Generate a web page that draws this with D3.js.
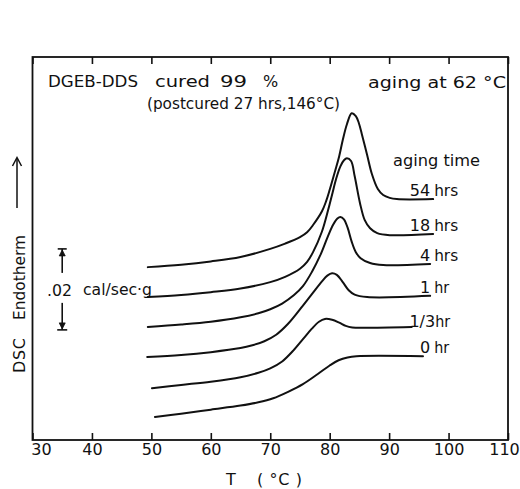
<!DOCTYPE html>
<html>
<head>
<meta charset="utf-8">
<script src="https://cdn.jsdelivr.net/npm/d3@7"></script>
<style>
  body { margin: 0; background: #fff; }
  text { font-family: "DejaVu Sans", sans-serif; fill: #111; }
</style>
</head>
<body>
<svg id="chart" width="520" height="489"></svg>
<script>
// DSC traces of DGEB-DDS aged at 62 °C; heat flow in mcal/(sec·g), offset per trace
const agingLabels = ["0", "1/3", "1", "4", "18", "54"];
const agingUnits  = ["hr", "hr", "hr", "hrs", "hrs", "hrs"];

const curve0hr = [[50.6, 5.7], [55, 6.5], [60, 7.5], [65, 8.5], [68, 9.3], [70.5, 10.3], [73, 11.9],
  [75.5, 13.8], [78, 16.3], [80, 18.4], [81.5, 19.7], [83, 20.4], [84.5, 20.7], [95.7, 20.7]];
const curve20min = [[50.1, 12.8], [55, 13.6], [60, 14.4], [65, 15.5], [68, 16.6], [70, 17.7], [72, 19.4],
  [74, 22.3], [75.5, 24.9], [77, 27.5], [78.2, 29.2], [79.2, 29.9], [80.4, 29.7], [81.6, 29.0],
  [82.7, 28.2], [83.8, 27.8], [85.6, 27.7], [93.8, 27.9]];
const curve1hr = [[49.3, 20.5], [55, 21.0], [60, 21.7], [65, 22.7], [67, 23.4], [69, 24.4], [71, 26.0],
  [73, 28.7], [75.5, 33.2], [77.2, 36.4], [78.7, 39.2], [79.6, 40.6], [80.4, 41.2], [81.2, 40.8],
  [82.2, 39.0], [83.2, 37.0], [84.2, 35.9], [86.3, 35.3], [96.9, 35.6]];
const curve4hr = [[49.4, 27.9], [55, 28.5], [60, 29.2], [65, 30.3], [68, 31.3], [70, 32.3], [72, 33.7],
  [74, 35.8], [75.5, 38.0], [77, 41.5], [78.5, 45.9], [79.7, 50.3], [80.6, 53.2], [81.3, 54.7],
  [81.8, 55.1], [82.4, 54.5], [83.0, 52.5], [83.7, 49.0], [84.4, 46.4], [85.2, 44.9], [86.8, 43.7],
  [89.0, 43.2], [96.9, 43.5]];
const curve18hr = [[49.4, 35.3], [55, 35.8], [60, 36.5], [65, 37.4], [70, 39.0], [72.5, 40.3], [75, 42.3],
  [76.2, 44.0], [77.2, 46.4], [78.7, 51.5], [79.7, 56.6], [80.4, 60.6], [81.1, 64.6], [81.8, 67.6],
  [82.4, 69.1], [82.9, 69.6], [83.6, 68.9], [84.2, 65.2], [85.1, 58.5], [85.9, 54.3], [86.8, 52.3],
  [88.0, 51.1], [90.1, 50.6], [97.4, 50.9]];
const curve54hr = [[49.4, 42.7], [55, 43.3], [60, 44.1], [65, 45.2], [70, 47.2], [72.5, 48.5], [75, 50.1],
  [76.2, 51.3], [77.2, 53.1], [78.7, 56.5], [79.4, 59.0], [80.0, 61.8], [80.9, 66.4], [81.6, 70.1],
  [82.2, 74.1], [82.9, 78.0], [83.7, 80.7], [84.4, 80.0], [84.9, 78.3], [85.4, 75.6], [86.3, 70.4],
  [87.1, 65.7], [88.1, 62.0], [89.0, 60.5], [90.1, 59.8], [91.3, 59.5], [97.4, 59.5]];

const curves = [curve0hr, curve20min, curve1hr, curve4hr, curve18hr, curve54hr];

const tempTicks = [30, 40, 50, 60, 70, 80, 90, 100, 110];
const scaleBarCal = 0.02;          // cal/sec·g
const scaleBarBase = 27.2;         // mcal/sec·g, lower end of the scale bar
const scaleBarTemp = 35;           // °C, horizontal position of the scale bar

const svg = d3.select("#chart");
const plotLeft = 32.5, plotRight = 508, plotTop = 57, plotBottom = 440;

const x = d3.scaleLinear().domain([30, 110]).range([plotLeft, plotRight]);
const y = d3.scaleLinear().domain([0, 94.6]).range([plotBottom, plotTop]);

// frame
svg.append("rect")
  .attr("x", plotLeft).attr("y", plotTop)
  .attr("width", plotRight - plotLeft).attr("height", plotBottom - plotTop)
  .attr("fill", "none").attr("stroke", "#111").attr("stroke-width", 1.8);

// bottom axis: inward ticks, labels below
const gx = svg.append("g")
  .attr("transform", `translate(0,${plotBottom})`)
  .call(d3.axisBottom(x).tickValues(tempTicks).tickSizeInner(-7).tickSizeOuter(0).tickPadding(4));
gx.select(".domain").remove();
gx.selectAll(".tick line").attr("stroke", "#111").attr("stroke-width", 1.6);
gx.selectAll(".tick text")
  .attr("font-size", 16)
  .attr("font-family", "DejaVu Sans, sans-serif")
  .attr("fill", "#111")
  .attr("dx", d => d === 30 ? 8.5 : d === 110 ? -4 : 0);

// top axis: inward ticks only
const gt = svg.append("g")
  .attr("transform", `translate(0,${plotTop})`)
  .call(d3.axisTop(x).tickValues(tempTicks).tickSizeInner(-7).tickSizeOuter(0).tickFormat(""));
gt.select(".domain").remove();
gt.selectAll(".tick line").attr("stroke", "#111").attr("stroke-width", 1.6);

// axis title
svg.append("text").attr("x", 231).attr("y", 485).attr("text-anchor", "middle")
  .attr("font-size", 16).text("T");
svg.append("text").attr("x", 257).attr("y", 485).attr("font-size", 16)
  .attr("textLength", 45).attr("lengthAdjust", "spacing").text("( °C )");

// vertical title with arrow
const yl = svg.append("g").attr("transform", "translate(25,373) rotate(-90)");
yl.append("text").attr("x", 0).attr("y", 0).attr("font-size", 16)
  .attr("textLength", 35).text("DSC");
yl.append("text").attr("x", 53).attr("y", 0).attr("font-size", 16)
  .attr("textLength", 85).attr("lengthAdjust", "spacingAndGlyphs").text("Endotherm");
svg.append("line").attr("x1", 17).attr("x2", 17).attr("y1", 208).attr("y2", 158)
  .attr("stroke", "#111").attr("stroke-width", 1.5);
svg.append("polyline").attr("points", "12.5,166 17,157.5 21.5,166")
  .attr("fill", "none").attr("stroke", "#111").attr("stroke-width", 1.5);

// heading texts
svg.append("text").attr("x", 48).attr("y", 87).attr("font-size", 16)
  .attr("textLength", 90).attr("lengthAdjust", "spacingAndGlyphs").text("DGEB-DDS");
svg.append("text").attr("x", 155).attr("y", 87).attr("font-size", 16)
  .attr("textLength", 55).attr("lengthAdjust", "spacingAndGlyphs").text("cured");
svg.append("text").attr("x", 220).attr("y", 87).attr("font-size", 16)
  .attr("textLength", 27).attr("lengthAdjust", "spacingAndGlyphs").text("99");
svg.append("text").attr("x", 263).attr("y", 87).attr("font-size", 16).text("%");
svg.append("text").attr("x", 147).attr("y", 109).attr("font-size", 16)
  .attr("textLength", 193).attr("lengthAdjust", "spacingAndGlyphs").text("(postcured 27 hrs,146°C)");
svg.append("text").attr("x", 368).attr("y", 88).attr("font-size", 15.5)
  .attr("textLength", 138).attr("lengthAdjust", "spacingAndGlyphs").text("aging at 62 °C");
svg.append("text").attr("x", 393).attr("y", 166).attr("font-size", 16)
  .attr("textLength", 87).attr("lengthAdjust", "spacingAndGlyphs").text("aging time");

// scale bar (.02 cal/sec·g)
const sbX = x(scaleBarTemp);
const sbLo = y(scaleBarBase), sbHi = y(scaleBarBase + scaleBarCal * 1000);
const sb = svg.append("g").attr("stroke", "#111").attr("fill", "#111");
sb.append("line").attr("x1", sbX - 4.5).attr("x2", sbX + 4.5).attr("y1", sbHi).attr("y2", sbHi).attr("stroke-width", 1.6);
sb.append("line").attr("x1", sbX - 5).attr("x2", sbX + 5).attr("y1", sbLo).attr("y2", sbLo).attr("stroke-width", 1.6);
sb.append("line").attr("x1", sbX).attr("x2", sbX).attr("y1", sbHi).attr("y2", sbHi + 24).attr("stroke-width", 1.6);
sb.append("line").attr("x1", sbX).attr("x2", sbX).attr("y1", sbLo - 27).attr("y2", sbLo).attr("stroke-width", 1.6);
sb.append("path").attr("d", `M${sbX},${sbHi + 1} l-3,6 h6 Z`).attr("stroke-width", 0.8);
sb.append("path").attr("d", `M${sbX},${sbLo - 1} l-3,-6 h6 Z`).attr("stroke-width", 0.8);
svg.append("text").attr("x", 47).attr("y", 296).attr("font-size", 16)
  .attr("textLength", 25).attr("lengthAdjust", "spacingAndGlyphs").text(".02");
svg.append("text").attr("x", 83).attr("y", 295).attr("font-size", 16)
  .attr("textLength", 69).attr("lengthAdjust", "spacingAndGlyphs").text("cal/sec·g");

// traces
const line = d3.line().x(d => x(d[0])).y(d => y(d[1])).curve(d3.curveCatmullRom.alpha(0.5));
svg.append("g").selectAll("path").data(curves).join("path")
  .attr("d", line)
  .attr("fill", "none").attr("stroke", "#111").attr("stroke-width", 2)
  .attr("stroke-linejoin", "round").attr("stroke-linecap", "round");

// aging-time labels at the end of each trace
const labelCol = x(96.9);
curves.forEach((c, i) => {
  const end = c[c.length - 1];
  const by = y(end[1]) - 3;
  const isFrac = agingLabels[i] === "1/3";
  svg.append("text").attr("x", isFrac ? labelCol + 5 : labelCol).attr("y", isFrac ? by + 3 : by)
    .attr("text-anchor", "end").attr("font-size", 16).text(agingLabels[i]);
  svg.append("text").attr("x", isFrac ? labelCol + 5 : labelCol + 4).attr("y", isFrac ? by + 3 : by)
    .attr("font-size", 16).attr("textLength", agingUnits[i].length === 3 ? 24 : 15)
    .attr("lengthAdjust", "spacingAndGlyphs").text(agingUnits[i]);
});
</script>
</body>
</html>
